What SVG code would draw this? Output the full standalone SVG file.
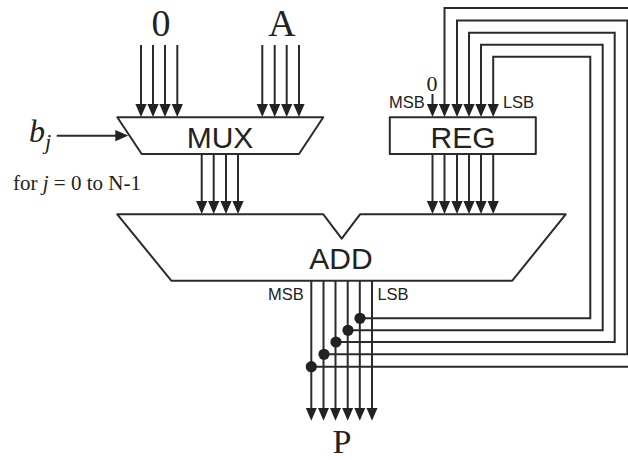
<svg xmlns="http://www.w3.org/2000/svg" width="628" height="460" viewBox="0 0 628 460">
<defs>
<style>
.w{fill:none;stroke:#2b2b2b;stroke-width:2;stroke-linejoin:miter}
.a{marker-end:url(#h)}
.b{fill:#fff;stroke:#2b2b2b;stroke-width:2;stroke-linejoin:round}
.d{fill:#222;stroke:none}
.s{font-family:"Liberation Sans",Arial,sans-serif;fill:#222}
.r{font-family:"Liberation Serif","Times New Roman",serif;fill:#222}
.big{font-size:30px;text-anchor:middle}
.sm{font-size:16.5px;text-anchor:middle}
.lg{font-size:38px;text-anchor:middle}
</style>
<marker id="h" markerUnits="userSpaceOnUse" viewBox="0 -6 13 12" markerWidth="13" markerHeight="12" refX="7" refY="0" orient="auto">
<path d="M0,-5.6L13,0L0,5.6Z" fill="#222"/>
</marker>
</defs>
<rect width="628" height="460" fill="#fff"/>
<g id="connectors">
<path class="w a" d="M141,45V111"/><path class="w a" d="M153,45V111"/><path class="w a" d="M165,45V111"/><path class="w a" d="M177.3,45V111"/>
<path class="w a" d="M262.3,45V111"/><path class="w a" d="M274.7,45V111"/><path class="w a" d="M286.7,45V111"/><path class="w a" d="M299,45V111"/>
<path class="w a" d="M56.7,135.7H122.3"/>
<path class="w a" d="M201.7,154V208"/><path class="w a" d="M213.7,154V208"/><path class="w a" d="M226,154V208"/><path class="w a" d="M238,154V208"/>
<path class="w a" d="M432.5,94V111"/>
<path class="w" d="M444.5,111V8H640"/>
<path class="w" d="M457,111V20.5H627.3V354.3H324"/>
<path class="w" d="M469,111V32.7H614.7V342H336"/>
<path class="w" d="M481,111V44.7H602.7V330.3H348"/>
<path class="w" d="M493.2,111V56.7H590.3V318.3H360"/>
<path class="w" d="M640,366.7H311.3"/>
<path class="w a" d="M444.5,106V111"/><path class="w a" d="M457,106V111"/><path class="w a" d="M469,106V111"/><path class="w a" d="M481,106V111"/><path class="w a" d="M493.2,106V111"/>
<path class="w a" d="M432.5,154V208"/><path class="w a" d="M444.5,154V208"/><path class="w a" d="M457,154V208"/><path class="w a" d="M469,154V208"/><path class="w a" d="M481,154V208"/><path class="w a" d="M493.2,154V208"/>
<path class="w a" d="M311.3,281V414.7"/><path class="w a" d="M323.5,281V414.7"/><path class="w a" d="M335.5,281V414.7"/><path class="w a" d="M347.7,281V414.7"/><path class="w a" d="M359.8,281V414.7"/><path class="w a" d="M372,281V414.7"/>
<circle class="d" cx="360" cy="318.3" r="5.6"/><circle class="d" cx="348" cy="330.3" r="5.6"/><circle class="d" cx="336" cy="342" r="5.6"/><circle class="d" cx="324" cy="354.3" r="5.6"/><circle class="d" cx="311.3" cy="366.7" r="5.6"/>
</g>
<g id="mux">
<path class="b" d="M117.3,117.3H323.3L299,154H141.7Z"/>
<text class="s big" x="220" y="147.5">MUX</text>
</g>
<g id="reg">
<rect class="b" x="389.8" y="117.3" width="146" height="36.7"/>
<text class="s big" x="463" y="147.5">REG</text>
<text class="s sm" x="407" y="108">MSB</text>
<text class="s sm" x="518.5" y="108">LSB</text>
<text class="r" x="432" y="91" font-size="22" text-anchor="middle">0</text>
</g>
<g id="add">
<path class="b" d="M117.3,214.3H323.3L341.7,238.7L360,214.3H565.7L512.3,280.7H171.3Z"/>
<text class="s big" x="341" y="269">ADD</text>
<text class="s sm" x="286" y="300">MSB</text>
<text class="s sm" x="393" y="300">LSB</text>
</g>
<g id="input-0"><text class="r lg" x="161" y="36">0</text></g>
<g id="input-a"><text class="r lg" x="282" y="36">A</text></g>
<g id="output-p"><text class="r" x="342" y="452.6" font-size="34" text-anchor="middle">P</text></g>
<g id="select">
<text class="r" x="29" y="142" font-size="32" font-style="italic">b<tspan font-size="22" dy="7">j</tspan></text>
<text class="r" x="13" y="190" font-size="21">for <tspan font-style="italic">j</tspan> = 0 to N-1</text>
</g>
</svg>
